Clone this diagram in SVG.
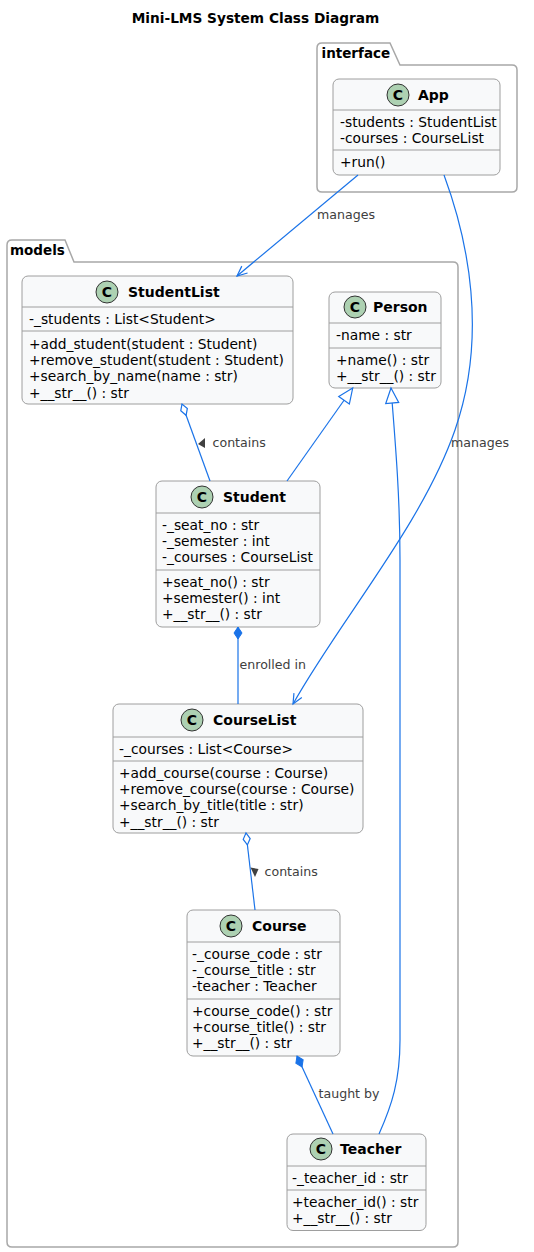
<svg xmlns="http://www.w3.org/2000/svg" width="534" height="1252" viewBox="0 0 534 1252">
<style>
text{font-family:"DejaVu Sans","Liberation Sans",sans-serif;}
.title{font-size:13.7px;font-weight:bold;fill:#000}
.pkg{fill:#fff;stroke:#a8a8a8;stroke-width:1.5}
.pkgname{font-size:13.5px;font-weight:bold;fill:#000}
.box{fill:#f8f9fa;stroke:#9e9e9e;stroke-width:1}
.div{stroke:#9e9e9e;stroke-width:1}
.spot{fill:#add1b2;stroke:#333;stroke-width:1}
.spotc{font-size:14px;font-weight:bold;text-anchor:middle;fill:#000}
.cname{font-size:14px;font-weight:bold;fill:#000}
.mem{font-size:13.8px;fill:#000}
.edge{fill:none;stroke:#1a73e8;stroke-width:1.2}
.lbl{font-size:12.6px;fill:#404040}
.dir{fill:#404040}
</style>
<defs>
<marker id="open" markerUnits="userSpaceOnUse" markerWidth="20" markerHeight="20" refX="0" refY="0" orient="auto" overflow="visible"><path d="M-10,-4.5 L0,0 L-10,4.5" fill="none" stroke="#1a73e8" stroke-width="1.2"/></marker>
<marker id="tri" markerUnits="userSpaceOnUse" markerWidth="20" markerHeight="20" refX="0" refY="0" orient="auto" overflow="visible"><path d="M0,0 L-15,-6.5 L-15,6.5 Z" fill="#fff" stroke="#1a73e8" stroke-width="1.2"/></marker>
<marker id="odia" markerUnits="userSpaceOnUse" markerWidth="20" markerHeight="20" refX="0" refY="0" orient="auto" overflow="visible"><path d="M0,0 L-6,-3.5 L-12,0 L-6,3.5 Z" fill="#fff" stroke="#1a73e8" stroke-width="1.2"/></marker>
<marker id="fdia" markerUnits="userSpaceOnUse" markerWidth="20" markerHeight="20" refX="0" refY="0" orient="auto" overflow="visible"><path d="M0,0 L-6,-4 L-12,0 L-6,4 Z" fill="#1a73e8" stroke="#1a73e8" stroke-width="1"/></marker>
</defs>
<rect width="534" height="1252" fill="#fff"/>
<text class="title" x="255.5" y="23" text-anchor="middle">Mini-LMS System Class Diagram</text>

<g id="pkg-interface">
<path class="pkg" d="M317,65 L317,48 Q317,43 322,43 L390,43 L400,65 L512,65 Q517,65 517,70 L517,187 Q517,192 512,192 L322,192 Q317,192 317,187 Z"/>
<text class="pkgname" x="321.5" y="58">interface</text>
</g>
<g id="pkg-models">
<path class="pkg" d="M7,262 L7,245 Q7,240 12,240 L65,240 L74,262 L453,262 Q458,262 458,267 L458,1242 Q458,1247 453,1247 L12,1247 Q7,1247 7,1242 Z"/>
<text class="pkgname" x="10" y="255">models</text>
</g>

<g id="App">
<rect class="box" x="333" y="79" width="167" height="96" rx="6"/>
<line class="div" x1="333" y1="110" x2="500" y2="110"/>
<line class="div" x1="333" y1="150" x2="500" y2="150"/>
<circle class="spot" cx="398" cy="95" r="11"/>
<text class="spotc" x="398" y="100">C</text>
<text class="cname" x="418" y="100">App</text>
<text class="mem" x="340" y="127">-students : StudentList</text>
<text class="mem" x="340" y="143.2">-courses : CourseList</text>
<text class="mem" x="340" y="167">+run()</text>
</g>

<g id="StudentList">
<rect class="box" x="22" y="276" width="271" height="128" rx="6"/>
<line class="div" x1="22" y1="307" x2="293" y2="307"/>
<line class="div" x1="22" y1="331" x2="293" y2="331"/>
<circle class="spot" cx="107" cy="292" r="11"/>
<text class="spotc" x="107" y="297">C</text>
<text class="cname" x="128" y="297">StudentList</text>
<text class="mem" x="29" y="324">-_students : List&lt;Student&gt;</text>
<text class="mem" x="29" y="349">+add_student(student : Student)</text>
<text class="mem" x="29" y="365.2">+remove_student(student : Student)</text>
<text class="mem" x="29" y="381.4">+search_by_name(name : str)</text>
<text class="mem" x="29" y="397.6">+__str__() : str</text>
</g>

<g id="Person">
<rect class="box" x="329" y="292" width="112" height="96" rx="6"/>
<line class="div" x1="329" y1="323" x2="441" y2="323"/>
<line class="div" x1="329" y1="348" x2="441" y2="348"/>
<circle class="spot" cx="355" cy="307" r="11"/>
<text class="spotc" x="355" y="312">C</text>
<text class="cname" x="373" y="312">Person</text>
<text class="mem" x="336" y="340">-name : str</text>
<text class="mem" x="336" y="365">+name() : str</text>
<text class="mem" x="336" y="381">+__str__() : str</text>
</g>

<g id="Student">
<rect class="box" x="156" y="481" width="164" height="146" rx="6"/>
<line class="div" x1="156" y1="513" x2="320" y2="513"/>
<line class="div" x1="156" y1="570" x2="320" y2="570"/>
<circle class="spot" cx="202" cy="497" r="11"/>
<text class="spotc" x="202" y="502">C</text>
<text class="cname" x="223" y="502">Student</text>
<text class="mem" x="162" y="530">-_seat_no : str</text>
<text class="mem" x="162" y="546.2">-_semester : int</text>
<text class="mem" x="162" y="562.4">-_courses : CourseList</text>
<text class="mem" x="162" y="587">+seat_no() : str</text>
<text class="mem" x="162" y="603.2">+semester() : int</text>
<text class="mem" x="162" y="619.4">+__str__() : str</text>
</g>

<g id="CourseList">
<rect class="box" x="113" y="704" width="250" height="129" rx="6"/>
<line class="div" x1="113" y1="737" x2="363" y2="737"/>
<line class="div" x1="113" y1="761" x2="363" y2="761"/>
<circle class="spot" cx="192" cy="720" r="11"/>
<text class="spotc" x="192" y="725">C</text>
<text class="cname" x="213" y="725">CourseList</text>
<text class="mem" x="119" y="754">-_courses : List&lt;Course&gt;</text>
<text class="mem" x="119" y="778">+add_course(course : Course)</text>
<text class="mem" x="119" y="794.2">+remove_course(course : Course)</text>
<text class="mem" x="119" y="810.4">+search_by_title(title : str)</text>
<text class="mem" x="119" y="826.6">+__str__() : str</text>
</g>

<g id="Course">
<rect class="box" x="187" y="910" width="153" height="146" rx="6"/>
<line class="div" x1="187" y1="942" x2="340" y2="942"/>
<line class="div" x1="187" y1="999" x2="340" y2="999"/>
<circle class="spot" cx="231" cy="926" r="11"/>
<text class="spotc" x="231" y="931">C</text>
<text class="cname" x="252" y="931">Course</text>
<text class="mem" x="192" y="959">-_course_code : str</text>
<text class="mem" x="192" y="975.2">-_course_title : str</text>
<text class="mem" x="192" y="991.4">-teacher : Teacher</text>
<text class="mem" x="192" y="1016">+course_code() : str</text>
<text class="mem" x="192" y="1032.2">+course_title() : str</text>
<text class="mem" x="192" y="1048.4">+__str__() : str</text>
</g>

<g id="Teacher">
<rect class="box" x="287" y="1134" width="139" height="96.5" rx="6"/>
<line class="div" x1="287" y1="1166" x2="426" y2="1166"/>
<line class="div" x1="287" y1="1190" x2="426" y2="1190"/>
<circle class="spot" cx="321" cy="1149" r="11"/>
<text class="spotc" x="321" y="1154">C</text>
<text class="cname" x="340" y="1154">Teacher</text>
<text class="mem" x="292" y="1183">-_teacher_id : str</text>
<text class="mem" x="292" y="1207">+teacher_id() : str</text>
<text class="mem" x="292" y="1223.2">+__str__() : str</text>
</g>

<g id="connectors">
<path class="edge" d="M358,175 L237,276" marker-end="url(#open)"/>
<text class="lbl" x="317" y="219">manages</text>
<path class="edge" d="M444,175 C468,240 488,335 455,430 C422,525 340,620 293,704" marker-end="url(#open)"/>
<text class="lbl" x="451" y="447">manages</text>
<path class="edge" d="M210,481 L182,404" marker-end="url(#odia)"/>
<polygon class="dir" points="205,438 205,448 198,444"/>
<text class="lbl" x="212.5" y="447">contains</text>
<path class="edge" d="M287,481 L352.7,388" marker-end="url(#tri)"/>
<path class="edge" d="M379,1134 C392,1105 400,1080 400,1040 L400,560 C400,500 396,450 391,388" marker-end="url(#tri)"/>
<path class="edge" d="M238,704 L238,627" marker-end="url(#fdia)"/>
<text class="lbl" x="239.5" y="669">enrolled in</text>
<path class="edge" d="M255,910 L246,833" marker-end="url(#odia)"/>
<polygon class="dir" points="250.5,867.5 258.5,869 255,877"/>
<text class="lbl" x="264.5" y="876">contains</text>
<path class="edge" d="M333,1134 L297,1056" marker-end="url(#fdia)"/>
<text class="lbl" x="318.5" y="1098">taught by</text>
</g>
</svg>
